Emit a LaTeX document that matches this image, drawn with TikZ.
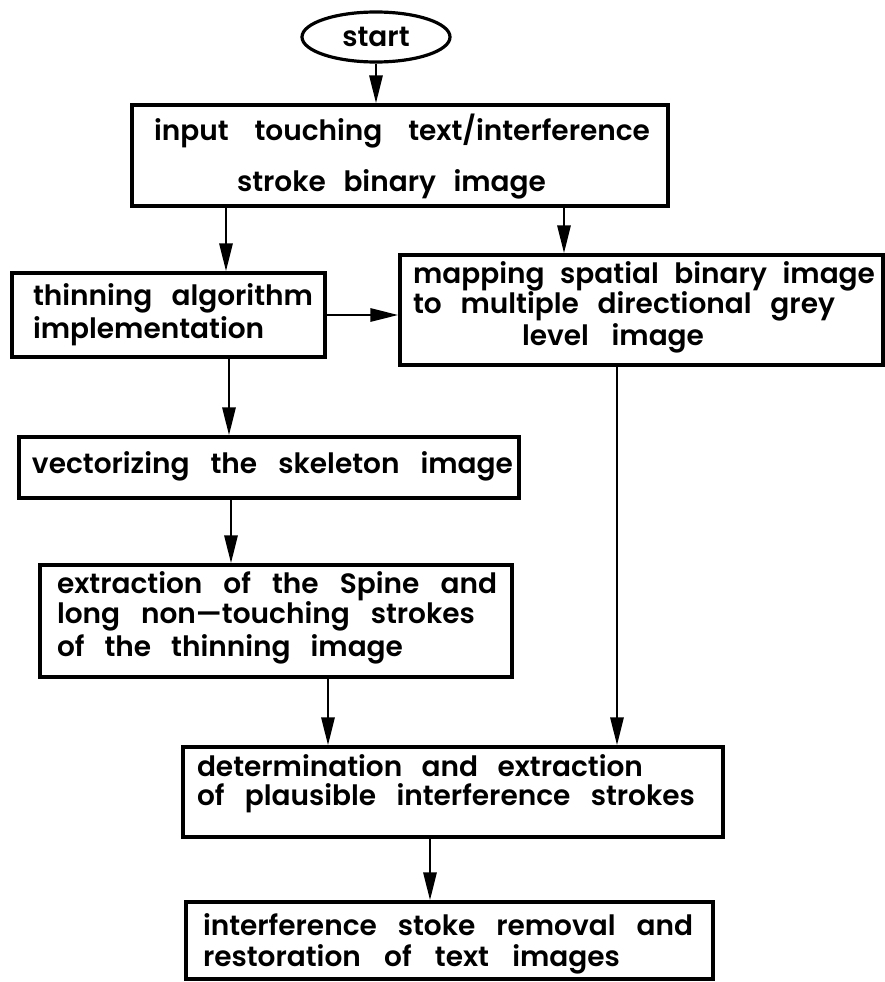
\documentclass[tikz,border=0pt]{standalone}
\usepackage{fontspec}
\IfFontExistsTF{Poppins SemiBold}{\setmainfont{Poppins SemiBold}}
  {\IfFontExistsTF{Poppins Medium}{\setmainfont{Poppins Medium}[FakeBold=1.2]}
    {\setmainfont{Poppins}[FakeBold=2]}}
\usetikzlibrary{arrows.meta,shapes.geometric}

% box contents: a fixed-size vertical box filled with lines at set baselines
\newcommand\boxtext[3]{\vbox to #2{\hsize=#1\offinterlineskip #3\vss}}
% one text line: indent, baseline step from the previous line, line width, text
\newcommand\tline[4]{\hbox to\hsize{\hskip#1\vrule height#2 width0pt depth0pt%
  \smash{\hbox to#3{\spaceskip=12pt plus 1fil\relax #4}}\hss}}

\tikzset{
  flowfont/.style={font=\fontsize{28}{31}\selectfont},
  flowbox/.style={draw, line width=3.2pt, inner sep=0pt, flowfont},
  startbox/.style={draw, ellipse, line width=3.2pt, inner sep=0pt,
    minimum width=148pt, minimum height=50pt, flowfont},
  flowarrow/.style={line width=2.9pt, -{Triangle[length=28pt,width=13pt]}},
}

\begin{document}
\begin{tikzpicture}[x=1pt,y=1pt]
\useasboundingbox (0,0) rectangle (884,-982);

\node[startbox] (start) at (376,-37) {start};

\node[flowbox] (b1) at (400,-155.5) {\boxtext{536pt}{101pt}{%
  \tline{22pt}{35pt}{496pt}{input touching text/interference}
  \tline{105pt}{51.5pt}{309pt}{stroke binary image}}};

\node[flowbox] (b2) at (168.5,-315) {\boxtext{313pt}{84pt}{%
  \tline{21pt}{32pt}{280pt}{thinning algorithm}
  \tline{21pt}{33pt}{224pt}{implementation}}};

\node[flowbox] (b3) at (641.5,-310) {\boxtext{483pt}{110pt}{%
  \tline{13pt}{28pt}{462pt}{mapping spatial binary image}
  \tline{13pt}{30pt}{422pt}{to multiple directional grey}
  \tline{122pt}{32pt}{182pt}{level image}}};

\node[flowbox] (b4) at (269,-467.5) {\boxtext{500pt}{61pt}{%
  \tline{13pt}{36pt}{481pt}{vectorizing the skeleton image}}};

\node[flowbox] (b5) at (276,-621) {\boxtext{472pt}{112pt}{%
  \tline{17pt}{28pt}{440pt}{extraction of the Spine and}
  \tline{17pt}{30pt}{418pt}{long non---touching strokes}
  \tline{17pt}{33pt}{346pt}{of the thinning image}}};

\node[flowbox] (b6) at (453,-792) {\boxtext{540pt}{90pt}{%
  \tline{14pt}{29pt}{446pt}{determination and extraction}
  \tline{14pt}{29pt}{498pt}{of plausible interference strokes}}};

\node[flowbox] (b7) at (449.5,-940.5) {\boxtext{527pt}{77pt}{%
  \tline{17pt}{33pt}{490pt}{interference stoke removal and}
  \tline{17pt}{31pt}{417pt}{restoration of text images}}};

% connectors
\draw[flowarrow] (start.south) -- (start.south |- b1.north);
\draw[flowarrow] ([xshift=-174pt]b1.south) -- ([xshift=57.5pt]b2.north);
\draw[flowarrow] ([xshift=164pt]b1.south) -- ([xshift=-77.5pt]b3.north);
\draw[flowarrow] (b2.east) -- (b3.west |- b2.east);
\draw[flowarrow] ([xshift=60.5pt]b2.south) -- ([xshift=-40pt]b4.north);
\draw[flowarrow] ([xshift=-38pt]b4.south) -- ([xshift=-45pt]b5.north);
\draw[flowarrow] ([xshift=52pt]b5.south) -- ([xshift=-125pt]b6.north);
\draw[flowarrow] ([xshift=-24.5pt]b3.south) -- ([xshift=164pt]b6.north);
\draw[flowarrow] ([xshift=-23pt]b6.south) -- ([xshift=-19.5pt]b7.north);
\end{tikzpicture}
\end{document}
